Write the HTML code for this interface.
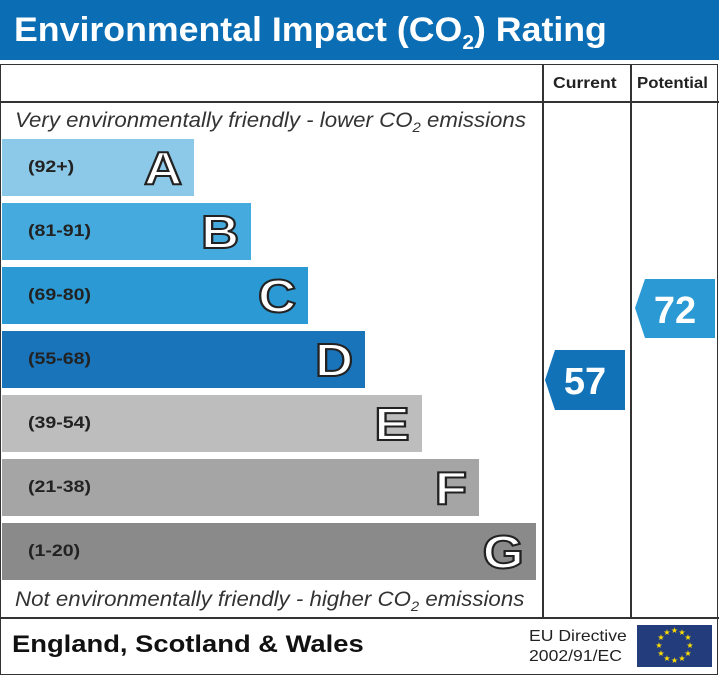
<!DOCTYPE html>
<html><head><meta charset="utf-8"><style>
body{margin:0;width:719px;height:675px;background:#fff;position:relative;overflow:hidden;font-family:"Liberation Sans",sans-serif}
.a{position:absolute;white-space:nowrap;transform-origin:0 0}
.bar{position:absolute;left:2px;height:57px}
.rng{position:absolute;left:26px;top:18px;font-size:17px;font-weight:bold;color:#222;transform:scaleX(1.15);transform-origin:0 0}
.let{position:absolute;right:12px;top:2px;font-size:46px;font-weight:bold;color:#fff;-webkit-text-stroke:2px #222;transform:scaleX(1.15);transform-origin:100% 0}
</style></head><body>
<div class="a" style="left:0;top:0;width:719px;height:60px;background:#0b6db3"></div>
<div class="a" style="left:14px;top:11px;font-size:34px;font-weight:bold;color:#fff;transform:scaleX(1.05)">Environmental Impact (CO<sub style="font-size:20px">2</sub>) Rating</div>
<div class="a" style="left:0;top:64px;width:716px;height:609px;border:1.5px solid #333"></div>
<div class="a" style="left:0;top:101px;width:719px;height:1.5px;background:#333"></div>
<div class="a" style="left:0;top:617px;width:719px;height:1.5px;background:#333"></div>
<div class="a" style="left:542px;top:64px;width:1.5px;height:554px;background:#333"></div>
<div class="a" style="left:630px;top:64px;width:1.5px;height:554px;background:#333"></div>
<div class="a" style="left:553px;top:75px;font-size:16px;font-weight:bold;color:#222;transform:scaleX(1.1)">Current</div>
<div class="a" style="left:637px;top:75px;font-size:16px;font-weight:bold;color:#222;transform:scaleX(1.05)">Potential</div>
<div class="a" style="left:15px;top:109px;font-size:21px;font-style:italic;color:#333;transform:scaleX(1.06)">Very environmentally friendly - lower CO<sub style="font-size:14px">2</sub> emissions</div>
<div class="a" style="left:15px;top:588px;font-size:21px;font-style:italic;color:#333;transform:scaleX(1.06)">Not environmentally friendly - higher CO<sub style="font-size:14px">2</sub> emissions</div>
<div class="bar" style="top:139px;width:192px;background:#8cc8e8"><span class="rng">(92+)</span><span class="let">A</span></div>
<div class="bar" style="top:203px;width:249px;background:#45aadd"><span class="rng">(81-91)</span><span class="let">B</span></div>
<div class="bar" style="top:267px;width:306px;background:#2b9ad4"><span class="rng">(69-80)</span><span class="let">C</span></div>
<div class="bar" style="top:331px;width:363px;background:#1a74ba"><span class="rng">(55-68)</span><span class="let">D</span></div>
<div class="bar" style="top:395px;width:420px;background:#bdbdbd"><span class="rng">(39-54)</span><span class="let">E</span></div>
<div class="bar" style="top:459px;width:477px;background:#a5a5a5"><span class="rng">(21-38)</span><span class="let">F</span></div>
<div class="bar" style="top:523px;width:534px;background:#8a8a8a"><span class="rng">(1-20)</span><span class="let">G</span></div>
<svg class="a" style="left:0;top:0" width="719" height="675">
<polygon points="555,350 625,350 625,410 555,410 545,380" fill="#1272b8"/>
<polygon points="645,279 715,279 715,338 645,338 635,308" fill="#2b9ad4"/>
<text x="585" y="394" font-size="38" font-weight="bold" fill="#fff" text-anchor="middle" font-family="Liberation Sans">57</text>
<text x="675" y="323" font-size="38" font-weight="bold" fill="#fff" text-anchor="middle" font-family="Liberation Sans">72</text>
<rect x="637" y="625" width="75" height="42" fill="#233d7c"/>
<g fill="#ffde00" font-size="8" text-anchor="middle">
<text x="674.5" y="633">★</text><text x="682" y="635">★</text><text x="688" y="640">★</text><text x="690" y="648">★</text><text x="688" y="656">★</text><text x="682" y="661">★</text><text x="674.5" y="663">★</text><text x="667" y="661">★</text><text x="661" y="656">★</text><text x="659" y="648">★</text><text x="661" y="640">★</text><text x="667" y="635">★</text>
</g>
</svg>
<div class="a" style="left:12px;top:631px;font-size:24px;font-weight:bold;color:#111;transform:scaleX(1.14)">England, Scotland &amp; Wales</div>
<div class="a" style="left:529px;top:627px;font-size:16px;color:#222;line-height:20px;transform:scaleX(1.1)">EU Directive<br>2002/91/EC</div>
</body></html>
